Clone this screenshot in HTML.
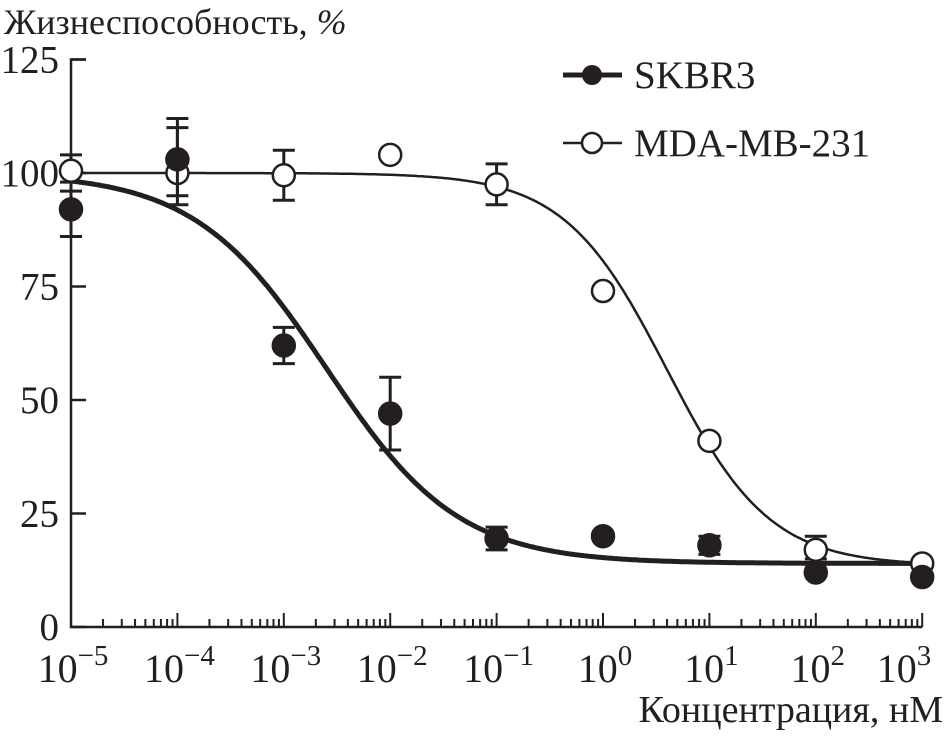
<!DOCTYPE html>
<html><head><meta charset="utf-8"><style>
html,body{margin:0;padding:0;background:#fff;}
svg text{font-family:"Liberation Serif","Noto Serif CJK SC","DejaVu Serif",serif !important;}
</style></head><body>
<svg id="chart" width="947" height="733" viewBox="0 0 947 733">
<text x="4" y="34" font-size="36" fill="#231f20">Жизнеспособность, <tspan font-style="italic">%</tspan></text>
<text x="943" y="722" font-size="38" fill="#231f20" text-anchor="end">Концентрация, нМ</text>
<g id="axes"></g><g id="curves"></g><g id="points"></g>
<g>
<g><line x1="563" y1="75" x2="622" y2="75" stroke="#231f20" stroke-width="5"/><circle cx="592" cy="75" r="10" fill="#231f20"/><text x="634" y="88" font-size="39" fill="#231f20">SKBR3</text></g>
<g><line x1="563" y1="143" x2="622" y2="143" stroke="#231f20" stroke-width="2.5"/><circle cx="592" cy="143" r="10" fill="#fff" stroke="#231f20" stroke-width="2.5"/><text x="634" y="156" font-size="39" fill="#231f20">MDA-MB-231</text></g>
</g>
</svg>
<script>
const xDecades=[-5,-4,-3,-2,-1,0,1,2,3];
const yTicks=[0,25,50,75,100,125];
const skLog=[-5,-4,-3,-2,-1,0,1,2,3];
const skVal=[92,103,62,47,19.5,20,18,12,11];
const skLo=[86,93,58,39,17,20,16,12,11];
const skHi=[98,112,66,55,22,20,20,12,11];
const mdLog=[-5,-4,-3,-2,-1,0,1,2,3];
const mdVal=[100.5,100,99.5,104,97.5,74,41,17,14];
const mdLo=[96,95,94,104,93,74,41,15,14];
const mdHi=[104,110,105,104,102,74,41,20,14];
const skFit=[100,14,-2.6,0.7]; // top,bottom,logEC50,hill
const mdFit=[100,13.5,0.6,0.9];
const NS='http://www.w3.org/2000/svg';
const X0=71,DEC=106.4,Y0=627,YS=(627-173)/100;
const xs=l=>X0+(l+5)*DEC, ys=v=>Y0-v*YS;
function mk(tag,attrs,parent){const e=document.createElementNS(NS,tag);for(const k in attrs)e.setAttribute(k,attrs[k]);parent.appendChild(e);return e;}
const axes=document.getElementById('axes'),curves=document.getElementById('curves'),pts=document.getElementById('points');
const c='#231f20';
let a=mk('path',{d:`M${X0+15},${ys(125)}H${X0}V${Y0}H${xs(3)}`,fill:'none',stroke:c,'stroke-width':2.5},axes);


yTicks.forEach(v=>{
 mk('line',{x1:X0,x2:X0+15,y1:ys(v),y2:ys(v),stroke:c,'stroke-width':2.5},axes);
 const t=mk('text',{x:X0-12,y:ys(v)+13,'font-size':39,'text-anchor':'end',fill:c},axes);
 t.textContent=v;
 
 
});
xDecades.forEach((d,i)=>{
 const x=xs(d);
 mk('line',{x1:x,x2:x,y1:Y0,y2:Y0-14,stroke:c,'stroke-width':2},axes);
 if(i<xDecades.length-1)for(let m=2;m<=9;m++){const xm=xs(d+Math.log10(m));mk('line',{x1:xm,x2:xm,y1:Y0,y2:Y0-8,stroke:c,'stroke-width':2},axes);}
 const t=mk('text',{x:Math.min(x+2,904),y:Y0+55,'font-size':40,'text-anchor':'middle',fill:c},axes);
 t.innerHTML=d<0?'10<tspan dy="-17" font-size="29">\u2212'+Math.abs(d)+'</tspan>':'10<tspan dy="-17" font-size="29">'+d+'</tspan>';
 
 
});
function curve(p,w,name){let d='';for(let l=-5;l<=3.0001;l+=0.02){const v=p[1]+(p[0]-p[1])/(1+Math.pow(10,(l-p[2])*p[3]));d+=(d?'L':'M')+xs(l).toFixed(1)+','+ys(v).toFixed(1);}
 const e=mk('path',{d:d,fill:'none',stroke:c,'stroke-width':w},curves);
 
 }
curve(mdFit,2.5,'mda-mb-231-fit-curve');
curve(skFit,5,'skbr3-fit-curve');
function series(L,V,Lo,Hi,fill,name){L.forEach((l,i)=>{const x=xs(l);
 if(Hi[i]-Lo[i]>0.5){mk('path',{d:`M${x},${ys(Lo[i])}V${ys(Hi[i])}M${x-11},${ys(Lo[i])}h22M${x-11},${ys(Hi[i])}h22`,stroke:c,'stroke-width':3,fill:'none'},pts);}
 const e=mk('circle',{cx:x,cy:ys(V[i]),r:11,fill:fill,stroke:c,'stroke-width':2.5},pts);
 
 });}
series(mdLog,mdVal,mdLo,mdHi,'#fff','mda-mb-231-point');
series(skLog,skVal,skLo,skHi,c,'skbr3-point');
</script>
</body></html>
